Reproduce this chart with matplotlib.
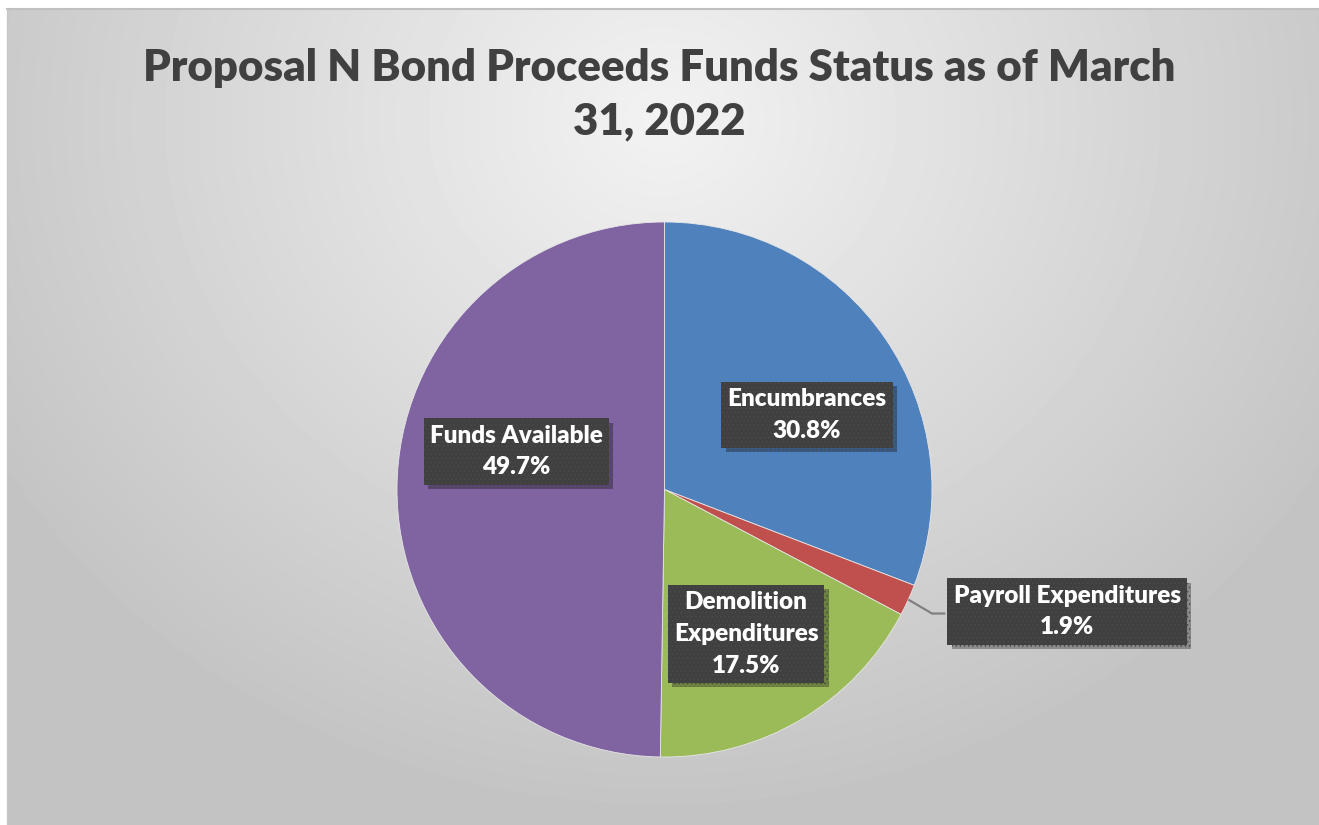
import numpy as np
import matplotlib.pyplot as plt
from matplotlib import patheffects as pe

# chart values
labels = ["Encumbrances", "Payroll Expenditures", "Demolition\nExpenditures", "Funds Available"]
shares = [30.8, 1.9, 17.5, 49.7]
colors = ["#4F81BD", "#C0504D", "#9BBB59", "#8064A2"]
title = "Proposal N Bond Proceeds Funds Status as of March\n31, 2022"

# where each data label sits (in pie radius units)
label_pos = [(0.533, 0.279), (1.505, -0.456), (0.305, -0.540), (-0.555, 0.142)]

plt.rcParams["font.family"] = ["Lato", "DejaVu Sans"]
plt.rcParams["hatch.linewidth"] = 0.6

W, H = 1319, 825
fig = plt.figure(figsize=(W / 100, H / 100), dpi=100)
fig.patch.set_facecolor("white")

# radial grey background of the chart area
bg = fig.add_axes([7 / W, 0, 1 - 7 / W, (H - 9) / H])
yy, xx = np.mgrid[0:816, 0:1312]
d = np.hypot((xx - 655) / 1.0, (yy - 110) / 0.9)
v = np.clip(d / 780, 0, 1)
shade = 0.95 - (0.95 - 0.765) * v ** 1.0
bg.imshow(shade, cmap="gray", vmin=0, vmax=1, aspect="auto", interpolation="bilinear")
bg.set_axis_off()
fig.add_artist(plt.Line2D([7 / W, 1], [(H - 9) / H] * 2, color="#c0c0c0", lw=1.5))
fig.add_artist(plt.Line2D([7 / W] * 2, [0, (H - 9) / H], color="#c8c8c8", lw=1.0))

R = 267.5
ax = fig.add_axes([(664.5 - 1.6 * R) / W, (H - 489.5 - 1.2 * R) / H, 3.2 * R / W, 2.4 * R / H])
ax.pie(shares, colors=colors, startangle=90, counterclock=False,
       wedgeprops=dict(edgecolor="#e6e6e6", linewidth=0.6))
ax.set_xlim(-1.6, 1.6)
ax.set_ylim(-1.2, 1.2)
ax.set_axis_off()

# leader line for the thin payroll slice
start = 30.8
mid = 90 - (start + shares[1] / 2) * 3.6
sx, sy = np.cos(np.radians(mid)), np.sin(np.radians(mid))
ax.plot([sx, 1.0, 1.05], [sy, -0.4636, -0.4636], color="#808080", lw=1.6, zorder=3,
        solid_capstyle="butt")

for lab, val, (x, y) in zip(labels, shares, label_pos):
    t = ax.text(x, y, f"{lab}\n{val:.1f}%", ha="center", va="center", color="white",
                fontsize=17.5, fontweight="heavy", linespacing=1.55, zorder=5,
                bbox=dict(boxstyle="square,pad=0.25", fc="#404040", ec="#4a4a4a",
                          lw=0, hatch="...."))
    t.get_bbox_patch().set_path_effects([
        pe.SimplePatchShadow(offset=(3, -3), shadow_rgbFace="#000000", alpha=0.3),
        pe.Normal()])

fig.text(0.5, 0.885, title, ha="center", va="center", fontsize=31.5, fontweight="heavy",
         color="#404040", linespacing=1.42)

fig.savefig("out.png", dpi=100)
